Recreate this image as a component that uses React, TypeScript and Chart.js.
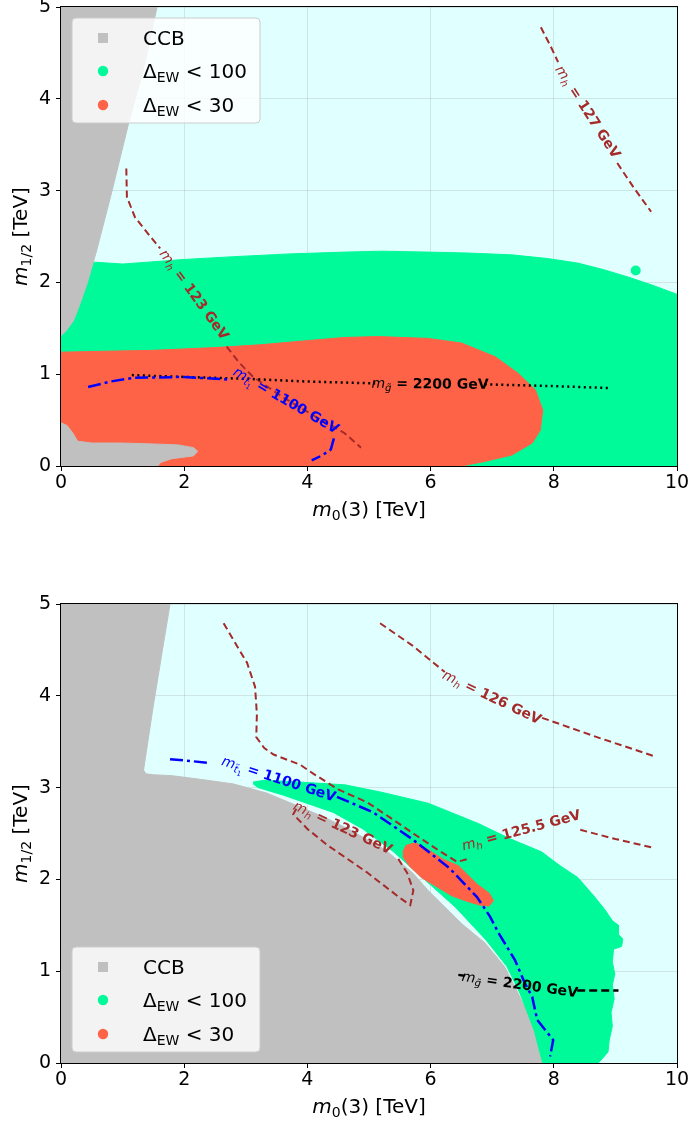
import React, { useEffect, useRef } from "react";
import { Chart, registerables } from "chart.js";

Chart.register(...registerables);

type P = [number, number] | null;

const FONT = "'DejaVu Sans', sans-serif";

// ---------- axes ----------
const xTicks = [0, 2, 4, 6, 8, 10];
const yTicks = [0, 1, 2, 3, 4, 5];

// ---------- legend ----------
const legendNames = ["CCB", "\u0394", "\u0394"];
const legendSubs = ["", "EW", "EW"];
const legendTails = ["", " < 100", " < 30"];

// ---------- top panel data (x = m0(3) TeV, y = m1/2 TeV) ----------
const topCCB: P[] = [
  [0, 5], [1.56, 5], [1.33, 4.3], [1.1, 3.74], [0.83, 3.0], [0.58, 2.35], [0.43, 2.0],
  [0.3, 1.75], [0.2, 1.58], [0.08, 1.47], [0, 1.42],
];
const topCCBLow: P[] = [
  [0, 0], [0, 0.47], [0.1, 0.44], [0.2, 0.35], [0.27, 0.27], [0.5, 0.25], [1.0, 0.25],
  [1.5, 0.24], [1.9, 0.23], [2.15, 0.2], [2.22, 0.16], [2.15, 0.11], [1.8, 0.08],
  [1.62, 0.04], [1.57, 0],
];
const topEW100: P[] = [
  [0, 0], [10, 0], [10, 1.87], [9.6, 1.97], [9.2, 2.06], [8.8, 2.14], [8.39, 2.21],
  [7.9, 2.26], [7.32, 2.3], [6.6, 2.32], [5.96, 2.33], [5.2, 2.34], [4.61, 2.33],
  [3.7, 2.31], [2.8, 2.28], [2.0, 2.25], [1.4, 2.22], [1.0, 2.2], [0.56, 2.22], [0, 2.22],
];
const topEW100Dot: P[] = [[9.33, 2.13]];
const topEW30: P[] = [
  [0, 0], [6.5, 0], [6.88, 0.05], [7.32, 0.12], [7.65, 0.25], [7.78, 0.39], [7.82, 0.61],
  [7.7, 0.83], [7.42, 1.01], [7.05, 1.19], [6.5, 1.34], [5.95, 1.39], [5.15, 1.41],
  [4.6, 1.4], [3.9, 1.36], [3.23, 1.32], [2.5, 1.29], [1.5, 1.26], [0.7, 1.25], [0, 1.24],
];
const topMh127: P[] = [
  [7.79, 4.78], [7.95, 4.57], [8.07, 4.4], null,
  [9.03, 3.3], [9.3, 3.03], [9.58, 2.77],
];
const topMh123: P[] = [
  [1.06, 3.24], [1.07, 2.93], [1.2, 2.71], [1.45, 2.5], [1.61, 2.37], null,
  [2.69, 1.3], [2.9, 1.12], [3.12, 0.97], [3.6, 0.75], [4.15, 0.53], [4.6, 0.36], [4.87, 0.2],
];
const topStop1100: P[] = [
  [0.44, 0.86], [0.8, 0.92], [1.17, 0.96], [2.0, 0.97], [2.74, 0.94], null,
  [4.43, 0.3], [4.38, 0.18], [4.25, 0.12], [4.07, 0.06],
];
const topGluino2200: P[] = [
  [1.15, 0.99], [2.0, 0.97], [3.0, 0.95], [4.0, 0.92], [5.1, 0.9], null,
  [6.88, 0.89], [8.0, 0.87], [8.88, 0.85],
];

// ---------- bottom panel data ----------
const botCCB: P[] = [
  [0, 0], [0, 5], [1.77, 5], [1.63, 4.43], [1.5, 3.9], [1.36, 3.28], [1.34, 3.19],
  [1.38, 3.15], [1.5, 3.14], [1.8, 3.13], [2.26, 3.09], [2.8, 3.04], [3.34, 2.94],
  [3.88, 2.79], [4.3, 2.67], [4.69, 2.54], [5.27, 2.32], [5.71, 2.07], [5.96, 1.88],
  [6.5, 1.52], [6.88, 1.31], [7.2, 1.05], [7.42, 0.76], [7.65, 0.44], [7.8, 0.14], [7.86, 0],
];
const botEW100: P[] = [
  [3.12, 3.06], [3.3, 3.08], [3.88, 3.06], [4.61, 3.03], [5.2, 2.95], [5.96, 2.83],
  [6.77, 2.61], [7.3, 2.44], [7.8, 2.3], [8.1, 2.15], [8.39, 2.02], [8.65, 1.82],
  [8.83, 1.67], [8.95, 1.55], [9.05, 1.5], [9.05, 1.4], [9.12, 1.35], [9.1, 1.27],
  [8.97, 1.24], [8.95, 1.1], [8.99, 0.97], [8.95, 0.85], [8.98, 0.7], [8.93, 0.55],
  [8.95, 0.4], [8.9, 0.25], [8.88, 0.12], [8.75, 0.02], [8.72, 0], [7.82, 0],
  [7.68, 0.36], [7.45, 0.76], [7.24, 1.05], [6.9, 1.34], [6.4, 1.7], [5.85, 2.03],
  [5.4, 2.3], [4.9, 2.55], [4.42, 2.73], [3.6, 2.92], [3.2, 3.0], [3.12, 3.04],
];
const botEW30: P[] = [
  [5.55, 2.3], [5.6, 2.37], [5.75, 2.4], [5.95, 2.33], [6.2, 2.22], [6.45, 2.15],
  [6.6, 2.05], [6.75, 1.95], [6.95, 1.85], [7.02, 1.77], [6.95, 1.71], [6.8, 1.72],
  [6.6, 1.76], [6.35, 1.82], [6.1, 1.92], [5.85, 2.02], [5.65, 2.15], [5.55, 2.25],
];
const botMh126: P[] = [
  [5.18, 4.79], [5.7, 4.55], [6.23, 4.26], null,
  [7.81, 3.76], [8.7, 3.55], [9.64, 3.34],
];
const botMh1255: P[] = [
  [2.64, 4.79], [2.85, 4.55], [3.02, 4.36], [3.15, 4.1], [3.18, 3.8], [3.17, 3.55],
  [3.3, 3.43], [3.45, 3.36], [3.88, 3.25], [4.1, 3.15], [4.5, 2.98], [4.97, 2.84],
  [5.35, 2.67], [5.72, 2.5], [6.1, 2.33], [6.43, 2.19], [6.64, 2.23], null,
  [8.43, 2.54], [9.0, 2.44], [9.64, 2.34],
];
const botMh123: P[] = [
  [3.82, 2.77], [3.77, 2.71], [4.0, 2.55], [4.31, 2.38], [4.96, 2.08], [5.5, 1.8],
  [5.67, 1.72], [5.72, 1.88], [5.62, 2.07], [5.45, 2.25],
];
const botStop1100: P[] = [
  [1.77, 3.31], [2.1, 3.29], [2.37, 3.27], null,
  [4.48, 2.9], [5.07, 2.73], [5.72, 2.43], [6.31, 2.12], [6.75, 1.81], [6.96, 1.6],
  [7.1, 1.42], [7.37, 1.12], [7.53, 0.87], [7.65, 0.72], [7.73, 0.47], [7.86, 0.36],
  [7.99, 0.25], [7.94, 0.07],
];
const botGluino2200: P[] = [
  [6.45, 0.96], [6.55, 0.95], null, [8.38, 0.79], [9.05, 0.79],
];

// ---------- contour labels ----------
type Lbl = { kind: string; sub: string; sub2?: string; text: string; x: number; y: number; angle: number };
const topLabels: Lbl[] = [
  { kind: "mh", sub: "h", text: " = 127 GeV", x: 8.56, y: 3.86, angle: 57 },
  { kind: "mh", sub: "h", text: " = 123 GeV", x: 2.17, y: 1.87, angle: 54 },
  { kind: "stop", sub: "t\u0303", sub2: "1", text: " = 1100 GeV", x: 3.66, y: 0.72, angle: 30 },
  { kind: "gluino", sub: "g\u0303", text: " = 2200 GeV", x: 5.99, y: 0.9, angle: 0.5 },
];
const botLabels: Lbl[] = [
  { kind: "mh", sub: "h", text: " = 126 GeV", x: 7.0, y: 3.99, angle: 25.5 },
  { kind: "mh", sub: "h", text: " = 125.5 GeV", x: 7.47, y: 2.54, angle: -15 },
  { kind: "mh", sub: "h", text: " = 123 GeV", x: 4.58, y: 2.57, angle: 25 },
  { kind: "stop", sub: "t\u0303", sub2: "1", text: " = 1100 GeV", x: 3.54, y: 3.1, angle: 18 },
  { kind: "gluino", sub: "g\u0303", text: " = 2200 GeV", x: 7.45, y: 0.86, angle: 8 },
];

const COLORS = {
  bg: "#e0ffff",
  ccb: "#c0c0c0",
  ew100: "#00fa9a",
  ew30: "#ff6347",
  mh: "#a52a2a",
  stop: "#0000ff",
  gluino: "#000000",
};

// ---------- helpers ----------
const toXY = (a: P[]) => a.filter((p) => p !== null).map((p) => ({ x: (p as number[])[0], y: (p as number[])[1] }));

function splitAtGaps(a: P[]): P[][] {
  const out: P[][] = [];
  let cur: P[] = [];
  for (const p of a) {
    if (p === null) {
      if (cur.length) out.push(cur);
      cur = [];
    } else cur.push(p);
  }
  if (cur.length) out.push(cur);
  return out;
}

function region(a: P[], color: string, order: number) {
  return {
    data: toXY(a),
    showLine: true,
    fill: "shape",
    backgroundColor: color,
    borderColor: color,
    borderWidth: 1,
    pointRadius: 0,
    order,
    clip: 0,
  };
}

function contour(a: P[], color: string, width: number, dash: number[], order: number) {
  return splitAtGaps(a).map((seg) => ({
    data: toXY(seg),
    showLine: true,
    fill: false,
    borderColor: color,
    borderWidth: width,
    borderDash: dash,
    pointRadius: 0,
    order,
  }));
}

type Seg = { t: string; f: string; dy: number };

function drawRich(ctx: CanvasRenderingContext2D, segs: Seg[], cx: number, cy: number, angle: number, color: string, base: number, align = "center") {
  ctx.save();
  ctx.translate(cx, cy);
  ctx.rotate((angle * Math.PI) / 180);
  ctx.fillStyle = color;
  ctx.textBaseline = "alphabetic";
  ctx.textAlign = "left";
  let w = 0;
  for (const s of segs) {
    ctx.font = s.f;
    w += ctx.measureText(s.t).width;
  }
  let x = align === "center" ? -w / 2 : 0;
  for (const s of segs) {
    ctx.font = s.f;
    ctx.fillText(s.t, x, base + s.dy);
    x += ctx.measureText(s.t).width;
  }
  ctx.restore();
}

function drawContourLabel(ctx: CanvasRenderingContext2D, l: Lbl, px: number, py: number) {
  const color = l.kind === "mh" ? COLORS.mh : l.kind === "stop" ? COLORS.stop : COLORS.gluino;
  const segs: Seg[] = [
    { t: "m", f: `italic 14px ${FONT}`, dy: 0 },
    { t: l.sub, f: `italic 10px ${FONT}`, dy: 3 },
  ];
  if (l.sub2) segs.push({ t: l.sub2, f: `7px ${FONT}`, dy: 5 });
  segs.push({ t: l.text, f: `bold 14px ${FONT}`, dy: 0 });
  drawRich(ctx, segs, px, py, l.angle, color, 5);
}

function drawLegend(ctx: CanvasRenderingContext2D, left: number, top: number) {
  const w = 188;
  const h = 105;
  const r = 4;
  ctx.save();
  ctx.beginPath();
  ctx.moveTo(left + r, top);
  ctx.lineTo(left + w - r, top);
  ctx.arcTo(left + w, top, left + w, top + r, r);
  ctx.lineTo(left + w, top + h - r);
  ctx.arcTo(left + w, top + h, left + w - r, top + h, r);
  ctx.lineTo(left + r, top + h);
  ctx.arcTo(left, top + h, left, top + h - r, r);
  ctx.lineTo(left, top + r);
  ctx.arcTo(left, top, left + r, top, r);
  ctx.closePath();
  ctx.fillStyle = "rgba(255,255,255,0.8)";
  ctx.fill();
  ctx.strokeStyle = "#cccccc";
  ctx.lineWidth = 1;
  ctx.stroke();

  const rows = [20, 53, 87];
  const colors = [COLORS.ccb, COLORS.ew100, COLORS.ew30];
  for (let i = 0; i < 3; i++) {
    const cy = top + rows[i];
    const mx = left + 31;
    ctx.fillStyle = colors[i];
    if (i === 0) {
      ctx.fillRect(mx - 5, cy - 5, 10, 10);
    } else {
      ctx.beginPath();
      ctx.arc(mx, cy, 5.2, 0, Math.PI * 2);
      ctx.fill();
    }
    const segs: Seg[] = [{ t: legendNames[i], f: `20px ${FONT}`, dy: 0 }];
    if (legendSubs[i]) segs.push({ t: legendSubs[i], f: `14px ${FONT}`, dy: 4 });
    if (legendTails[i]) segs.push({ t: legendTails[i], f: `20px ${FONT}`, dy: 0 });
    drawRich(ctx, segs, left + 71, cy, 0, "#000", 7, "left");
  }
  ctx.restore();
}

function panelPlugin(labels: Lbl[], legendOffset: number) {
  return {
    id: "panelDecor",
    beforeDraw(chart: any) {
      const { ctx, chartArea: a } = chart;
      ctx.save();
      ctx.fillStyle = COLORS.bg;
      ctx.fillRect(a.left, a.top, a.right - a.left, a.bottom - a.top);
      ctx.restore();
    },
    afterDraw(chart: any) {
      const { ctx, chartArea: a, scales } = chart;
      ctx.save();
      ctx.beginPath();
      ctx.rect(a.left, a.top, a.right - a.left, a.bottom - a.top);
      ctx.clip();
      for (const l of labels) {
        drawContourLabel(ctx, l, scales.x.getPixelForValue(l.x), scales.y.getPixelForValue(l.y));
      }
      ctx.restore();

      ctx.save();
      ctx.strokeStyle = "#000";
      ctx.lineWidth = 1;
      ctx.strokeRect(a.left - 0.5, a.top - 0.5, a.right - a.left + 1, a.bottom - a.top + 1);
      ctx.restore();

      drawLegend(ctx, 72, a.top + legendOffset);

      // axis titles
      drawRich(
        ctx,
        [
          { t: "m", f: `italic 20px ${FONT}`, dy: 0 },
          { t: "0", f: `14px ${FONT}`, dy: 4 },
          { t: "(3) [TeV]", f: `20px ${FONT}`, dy: 0 },
        ],
        (a.left + a.right) / 2,
        a.bottom + 43,
        0,
        "#000",
        7
      );
      drawRich(
        ctx,
        [
          { t: "m", f: `italic 20px ${FONT}`, dy: 0 },
          { t: "1/2", f: `14px ${FONT}`, dy: 4 },
          { t: " [TeV]", f: `20px ${FONT}`, dy: 0 },
        ],
        20,
        (a.top + a.bottom) / 2,
        -90,
        "#000",
        7
      );
    },
  };
}

function makeConfig(datasets: any[], labels: Lbl[], legendOffset: number) {
  const grid = {
    color: "rgba(160,160,160,0.35)",
    lineWidth: 0.8,
    tickColor: "#000",
    tickLength: 5,
    tickWidth: 1,
  };
  return {
    type: "scatter",
    data: { datasets },
    options: {
      animation: false,
      responsive: false,
      maintainAspectRatio: false,
      events: [],
      layout: { padding: { left: 0, top: 17, right: 13, bottom: 0 } },
      plugins: { legend: { display: false }, tooltip: { enabled: false } },
      scales: {
        x: {
          type: "linear",
          min: xTicks[0],
          max: xTicks[xTicks.length - 1],
          z: 1,
          grid,
          border: { display: false },
          ticks: {
            font: { family: FONT, size: 19 },
            color: "#000",
            padding: 1,
            maxRotation: 0,
            autoSkip: false,
            callback: (v: any) => String(v),
          },
          afterBuildTicks: (s: any) => {
            s.ticks = xTicks.map((v) => ({ value: v }));
          },
          afterFit: (s: any) => {
            s.height = 60;
            s.paddingLeft = 0;
            s.paddingRight = 0;
          },
        },
        y: {
          type: "linear",
          min: yTicks[0],
          max: yTicks[yTicks.length - 1],
          z: 1,
          grid,
          border: { display: false },
          ticks: {
            font: { family: FONT, size: 19 },
            color: "#000",
            padding: 5,
            autoSkip: false,
            callback: (v: any) => String(v),
          },
          afterBuildTicks: (s: any) => {
            s.ticks = yTicks.map((v) => ({ value: v }));
          },
          afterFit: (s: any) => {
            s.width = 61;
            s.paddingTop = 0;
            s.paddingBottom = 0;
          },
        },
      },
    },
    plugins: [panelPlugin(labels, legendOffset)],
  };
}

function topConfig() {
  const datasets = [
    region(topEW100, COLORS.ew100, 20),
    {
      data: toXY(topEW100Dot),
      showLine: false,
      pointRadius: 5,
      pointBackgroundColor: COLORS.ew100,
      pointBorderWidth: 0,
      order: 19,
    },
    region(topEW30, COLORS.ew30, 18),
    region(topCCBLow, COLORS.ccb, 17),
    region(topCCB, COLORS.ccb, 17),
    ...contour(topMh127, COLORS.mh, 2, [7, 4], 5),
    ...contour(topMh123, COLORS.mh, 2, [7, 4], 5),
    ...contour(topGluino2200, COLORS.gluino, 2.5, [2, 3.5], 4),
    ...contour(topStop1100, COLORS.stop, 2.5, [13, 4, 3, 4], 3),
  ];
  return makeConfig(datasets, topLabels, 11);
}

function bottomConfig() {
  const datasets = [
    region(botCCB, COLORS.ccb, 20),
    region(botEW100, COLORS.ew100, 19),
    region(botEW30, COLORS.ew30, 18),
    ...contour(botMh126, COLORS.mh, 2, [7, 4], 5),
    ...contour(botMh1255, COLORS.mh, 2, [7, 4], 5),
    ...contour(botMh123, COLORS.mh, 2, [7, 4], 5),
    ...contour(botGluino2200, COLORS.gluino, 2.5, [8, 4], 4),
    ...contour(botStop1100, COLORS.stop, 2.5, [13, 4, 3, 4], 3),
  ];
  return makeConfig(datasets, botLabels, 343);
}

function Panel({ make }: { make: () => any }) {
  const ref = useRef<HTMLCanvasElement>(null);
  useEffect(() => {
    const chart = new Chart(ref.current as HTMLCanvasElement, make());
    return () => chart.destroy();
  }, []);
  return <canvas ref={ref} width={690} height={536} style={{ display: "block", width: 690, height: 536 }} />;
}

export default function App() {
  return (
    <div style={{ position: "absolute", left: 0, top: 0, width: 690, height: 1123, background: "#fff", overflow: "hidden" }}>
      <div style={{ position: "absolute", left: 0, top: -10 }}>
        <Panel make={topConfig} />
      </div>
      <div style={{ position: "absolute", left: 0, top: 587 }}>
        <Panel make={bottomConfig} />
      </div>
    </div>
  );
}
